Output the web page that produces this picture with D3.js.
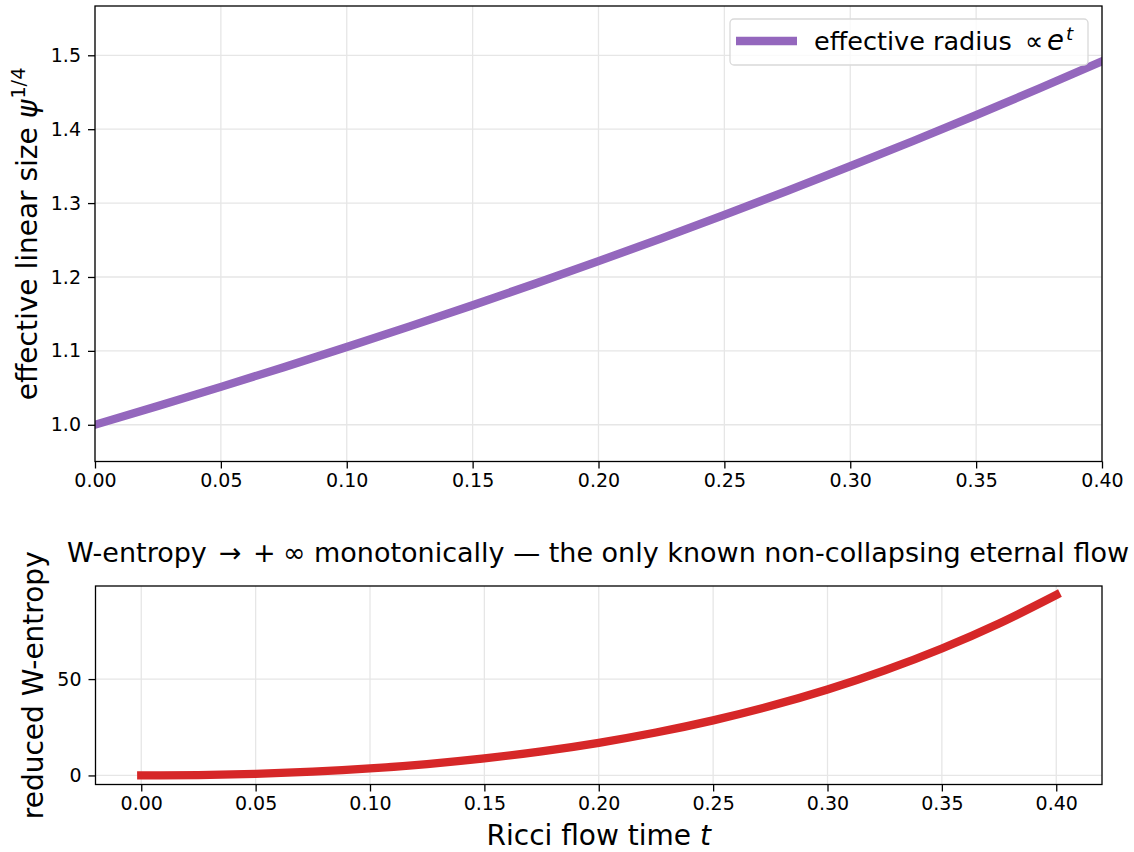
<!DOCTYPE html>
<html>
<head>
<meta charset="utf-8">
<script src="https://cdn.jsdelivr.net/npm/d3@7"></script>
<style>
  html, body { margin: 0; padding: 0; background: #fff; }
  svg { display: block; font-family: "DejaVu Sans", sans-serif; }
</style>
</head>
<body>
<svg id="chart" width="1134" height="852"></svg>
<script>
// ---- data ----
const flowTime = [0, 0.025, 0.05, 0.075, 0.1, 0.125, 0.15, 0.175, 0.2, 0.225, 0.25, 0.275, 0.3, 0.325, 0.35, 0.375, 0.4];
const effectiveRadius = [1.0000, 1.0253, 1.0513, 1.0779, 1.1052, 1.1331, 1.1618, 1.1912, 1.2214, 1.2523, 1.2840, 1.3165, 1.3499, 1.3840, 1.4191, 1.4550, 1.4918];
const wEntropy = [0, 0.21, 0.85, 1.98, 3.65, 5.92, 8.84, 12.49, 16.94, 22.27, 28.59, 35.99, 44.58, 54.50, 65.88, 78.87, 93.65];
const xTicks = [0, 0.05, 0.10, 0.15, 0.20, 0.25, 0.30, 0.35, 0.40];
const topYTicks = [1.0, 1.1, 1.2, 1.3, 1.4, 1.5];
const bottomYTicks = [0, 50];
const topXDomain = [0, 0.4];
const topYDomain = [0.9503, 1.5667];
const bottomXDomain = [-0.02, 0.42];
const bottomYDomain = [-4.7, 98.3];

const svg = d3.select("#chart");
const TICK_FS = 19, LABEL_FS = 28, TITLE_FS = 27, LEGEND_FS = 25.5;
const gridColor = "#e6e6e6";

function panel(box, xDom, yDom, yTicks, yFmt) {
  const x = d3.scaleLinear().domain(xDom).range([box.left, box.right]);
  const y = d3.scaleLinear().domain(yDom).range([box.bottom, box.top]);
  const g = svg.append("g");
  g.append("g").selectAll("line").data(xTicks).join("line")
    .attr("x1", d => x(d)).attr("x2", d => x(d))
    .attr("y1", box.top).attr("y2", box.bottom)
    .attr("stroke", gridColor).attr("stroke-width", 1.3);
  g.append("g").selectAll("line").data(yTicks).join("line")
    .attr("x1", box.left).attr("x2", box.right)
    .attr("y1", d => y(d)).attr("y2", d => y(d))
    .attr("stroke", gridColor).attr("stroke-width", 1.3);
  const xa = g.append("g").attr("transform", `translate(0,${box.bottom})`)
    .call(d3.axisBottom(x).tickValues(xTicks).tickFormat(d3.format(".2f")).tickSizeOuter(0).tickSize(7).tickPadding(5.5));
  const ya = g.append("g").attr("transform", `translate(${box.left},0)`)
    .call(d3.axisLeft(y).tickValues(yTicks).tickFormat(yFmt).tickSizeOuter(0).tickSize(7).tickPadding(7));
  [xa, ya].forEach(a => {
    a.select(".domain").remove();
    a.selectAll("line").attr("stroke", "#000").attr("stroke-width", 1.3);
    a.selectAll("text").attr("font-family", "DejaVu Sans").attr("font-size", TICK_FS).attr("fill", "#000");
  });
  return { x, y, g };
}

// ---- top panel ----
const topBox = { left: 95, right: 1102, top: 6, bottom: 461.5 };
const topPanel = panel(topBox, topXDomain, topYDomain, topYTicks, d3.format(".1f"));
svg.append("clipPath").attr("id", "clipTop").append("rect")
  .attr("x", topBox.left).attr("y", topBox.top)
  .attr("width", topBox.right - topBox.left).attr("height", topBox.bottom - topBox.top);
const topPts = flowTime.map((t, i) => [t, effectiveRadius[i]]);
svg.append("path").datum(topPts)
  .attr("clip-path", "url(#clipTop)")
  .attr("d", d3.line().x(d => topPanel.x(d[0])).y(d => topPanel.y(d[1])).curve(d3.curveMonotoneX))
  .attr("fill", "none").attr("stroke", "#9467bd").attr("stroke-width", 8.3)
  .attr("stroke-linecap", "square");
svg.append("rect").attr("x", topBox.left).attr("y", topBox.top)
  .attr("width", topBox.right - topBox.left).attr("height", topBox.bottom - topBox.top)
  .attr("fill", "none").attr("stroke", "#000").attr("stroke-width", 1.3);

// legend
const leg = svg.append("g");
leg.append("rect").attr("x", 730).attr("y", 19).attr("width", 358).attr("height", 46)
  .attr("rx", 4).attr("fill", "#fff").attr("fill-opacity", 0.8)
  .attr("stroke", "#d9d9d9").attr("stroke-width", 1.3);
leg.append("line").attr("x1", 736).attr("x2", 797).attr("y1", 41).attr("y2", 41)
  .attr("stroke", "#9467bd").attr("stroke-width", 8.3);
leg.append("text").attr("x", 814).attr("y", 50).attr("font-size", LEGEND_FS).attr("fill", "#000")
  .text("effective radius");
leg.append("text").attr("x", 1025).attr("y", 50).attr("font-size", LEGEND_FS).attr("fill", "#000").text("∝");
leg.append("text").attr("x", 1047).attr("y", 50).attr("font-size", LEGEND_FS * 1.08).attr("font-style", "italic").attr("fill", "#000").text("e");
leg.append("text").attr("x", 1066).attr("y", 40).attr("font-size", LEGEND_FS * 0.72).attr("font-style", "italic").attr("fill", "#000").text("t");

// top y label
const tyl = svg.append("text")
  .attr("transform", `translate(37,${(topBox.top + topBox.bottom) / 2}) rotate(-90)`)
  .attr("text-anchor", "middle").attr("font-size", LABEL_FS).attr("fill", "#000");
tyl.append("tspan").text("effective linear size ");
tyl.append("tspan").attr("font-style", "italic").text("ψ");
tyl.append("tspan").attr("font-size", LABEL_FS * 0.7).attr("dy", -12).attr("dx", 1).text("1/4");

// ---- bottom panel ----
const botBox = { left: 95.5, right: 1102, top: 586, bottom: 784.5 };
const botPanel = panel(botBox, bottomXDomain, bottomYDomain, bottomYTicks, d3.format("d"));
const botPts = flowTime.map((t, i) => [t, wEntropy[i]]);
svg.append("path").datum(botPts)
  .attr("d", d3.line().x(d => botPanel.x(d[0])).y(d => botPanel.y(d[1])).curve(d3.curveMonotoneX))
  .attr("fill", "none").attr("stroke", "#d62728").attr("stroke-width", 8.3)
  .attr("stroke-linecap", "square");
svg.append("rect").attr("x", botBox.left).attr("y", botBox.top)
  .attr("width", botBox.right - botBox.left).attr("height", botBox.bottom - botBox.top)
  .attr("fill", "none").attr("stroke", "#000").attr("stroke-width", 1.3);

// title
const tt = svg.append("text").attr("x", 67).attr("y", 562)
  .attr("font-size", TITLE_FS).attr("fill", "#000");
tt.append("tspan").text("W-entropy");
tt.append("tspan").attr("x", 219).text("→");
tt.append("tspan").attr("x", 253).text("+");
tt.append("tspan").attr("x", 283).text("∞");
tt.append("tspan").attr("x", 314).text("monotonically — the only known non-collapsing eternal flow");

// bottom y label
svg.append("text")
  .attr("transform", `translate(43,${(botBox.top + botBox.bottom) / 2}) rotate(-90)`)
  .attr("text-anchor", "middle").attr("font-size", LABEL_FS).attr("fill", "#000")
  .text("reduced W-entropy");

// x label
const xl = svg.append("text").attr("x", (botBox.left + botBox.right) / 2).attr("y", 845)
  .attr("text-anchor", "middle").attr("font-size", LABEL_FS).attr("fill", "#000");
xl.append("tspan").text("Ricci flow time ");
xl.append("tspan").attr("font-style", "italic").text("t");
</script>
</body>
</html>
